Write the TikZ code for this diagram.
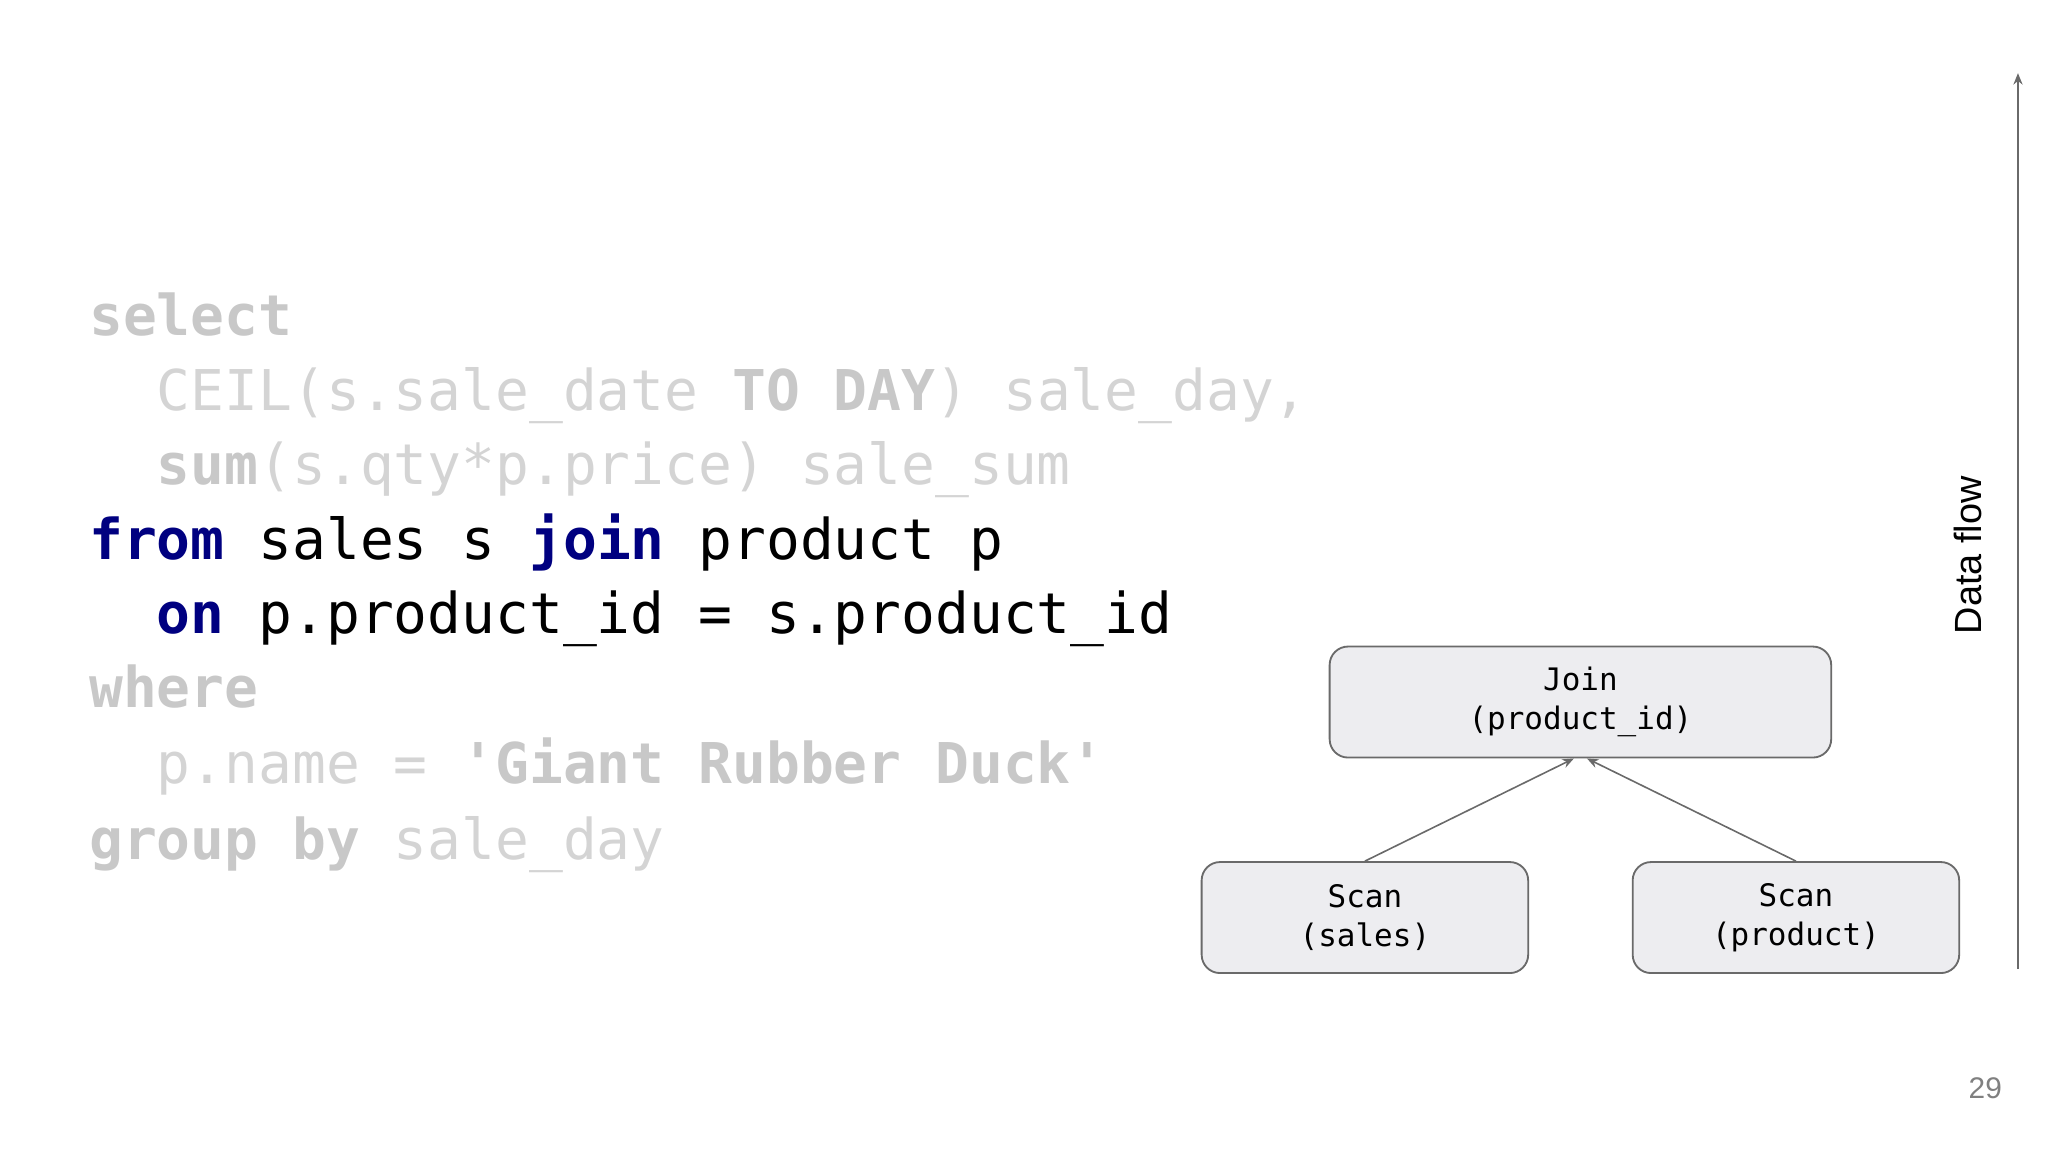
\documentclass[tikz,border=0pt]{standalone}
\usepackage{fontspec}
\setmainfont{Liberation Sans}
\setmonofont{DejaVu Sans Mono}
\usetikzlibrary{arrows.meta}
\definecolor{dim}{HTML}{D4D4D4}
\definecolor{dimk}{HTML}{C8C8C8}
\definecolor{kw}{HTML}{000080}
\definecolor{boxfill}{HTML}{EDEDF0}
\definecolor{boxline}{HTML}{6A6A6A}
\tikzset{
  code/.style={anchor=base west,inner sep=0pt,font=\ttfamily\fontsize{24.5}{28}\selectfont},
  opbox/.style={draw=boxline,fill=boxfill,rounded corners=8pt,line width=0.8pt,align=center,font=\ttfamily\fontsize{13.5}{17}\selectfont},
  flow/.style={-{Stealth[length=5pt,width=4pt]},draw=boxline,line width=0.7pt}
}
\newcommand{\dk}[1]{\textcolor{dimk}{\textbf{#1}}}
\newcommand{\hk}[1]{\textcolor{kw}{\textbf{#1}}}
\begin{document}
\begin{tikzpicture}[x=0.02cm,y=-0.02cm]
\useasboundingbox (0,0) rectangle (1568,882);
\node[code,text=dim] (l1) at (68,257) {\dk{select}};
\node[code,text=dim] (l2) at (68,314) {\ \ CEIL(s.sale\_date \dk{TO DAY}) sale\_day,};
\node[code,text=dim] (l3) at (68,371) {\ \ \dk{sum}(s.qty*p.price) sale\_sum};
\node[code] (l4) at (68,428) {\hk{from} sales s \hk{join} product p};
\node[code] (l5) at (68,485) {\ \ \hk{on} p.product\_id = s.product\_id};
\node[code,text=dim] (l6) at (68,542) {\dk{where}};
\node[code,text=dim] (l7) at (68,600) {\ \ p.name = \dk{'Giant Rubber Duck'}};
\node[code,text=dim] (l8) at (68,658) {\dk{group by} sale\_day};

\node[opbox,minimum width=384*0.02cm,minimum height=85*0.02cm] (join) at (1210,537.5) {Join\\(product\_id)};
\node[opbox,minimum width=250*0.02cm,minimum height=85*0.02cm] (ss) at (1045,702.5) {Scan\\(sales)};
\node[opbox,minimum width=250*0.02cm,minimum height=85*0.02cm] (sp) at (1375,702.5) {Scan\\(product)};
\draw[flow] (ss.north) -- ([xshift=-5*0.02cm]join.south);
\draw[flow] (sp.north) -- ([xshift=5*0.02cm]join.south);

\coordinate (fb) at (1545,742);
\coordinate (ft) at (1545,56);
\draw[flow] (fb) -- (ft);
\node[rotate=90,font=\fontsize{16.5}{20}\selectfont] (df) at (1507,425) {Data flow};
\node[text=gray,font=\fontsize{13}{16}\selectfont] (pn) at (1520,833) {29};
\end{tikzpicture}
\end{document}
